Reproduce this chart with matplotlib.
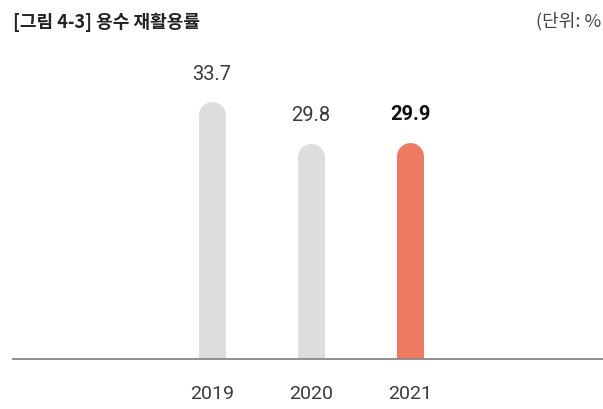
import matplotlib
matplotlib.use("Agg")
import matplotlib.pyplot as plt

years = ["2019", "2020", "2021"]
values = [33.7, 29.8, 29.9]
colors = ["#dcdddc", "#dcdddc", "#ee7a62"]
bold_flags = [False, False, True]
title = "[그림 4-3] 용수 재활용률"
unit_label = "(단위: %"

plt.rcParams['font.family'] = ['Roboto', 'Noto Sans CJK KR', 'DejaVu Sans']

W, H = 603, 409
fig = plt.figure(figsize=(W / 100, H / 100), dpi=100)
base_px = 358.5
left_px = 13
ax = fig.add_axes([left_px / W, (H - base_px) / H, 1 - left_px / W, base_px / H])

x = list(range(len(years)))
ymin = 9.42
ax.set_xlim(-2.01, 3.95)
ax.set_ylim(ymin, ymin + base_px / 10.57)

bar_px = 27
lw_pt = bar_px * 72 / 100
px_per_unit = base_px / (ax.get_ylim()[1] - ax.get_ylim()[0])
r_data = (bar_px / 2) / px_per_unit

for xi, v, c, b in zip(x, values, colors, bold_flags):
    ax.plot([xi, xi], [ymin - 5, v - r_data], color=c, lw=lw_pt,
            solid_capstyle='round', clip_on=True, zorder=2)
    ax.annotate(f"{v:.1f}", (xi, v), xytext=(0, 13), textcoords='offset points',
                ha='center', va='bottom', fontsize=14.5,
                fontweight='bold' if b else 'normal',
                color='#111111' if b else '#3a3a3a', annotation_clip=False)

for s in ['top', 'right', 'left']:
    ax.spines[s].set_visible(False)
ax.spines['bottom'].set_color('#888888')
ax.spines['bottom'].set_linewidth(1.3)
ax.spines['bottom'].set_zorder(3)
ax.set_yticks([])
ax.set_xticks(x)
ax.set_xticklabels(years, fontsize=14, color='#3a3a3a', fontweight='normal')
ax.tick_params(axis='x', length=0, pad=19)

fig.text(13 / W, 1 - 22 / H, title, fontsize=13, fontweight='bold',
         family=['Noto Sans CJK KR'], va='center', ha='left', color='#222222')
fig.text(601 / W, 1 - 21 / H, unit_label, fontsize=13, va='center', ha='right',
         family=['Noto Sans CJK KR'], color='#444444')

fig.savefig("out.png", dpi=100)
